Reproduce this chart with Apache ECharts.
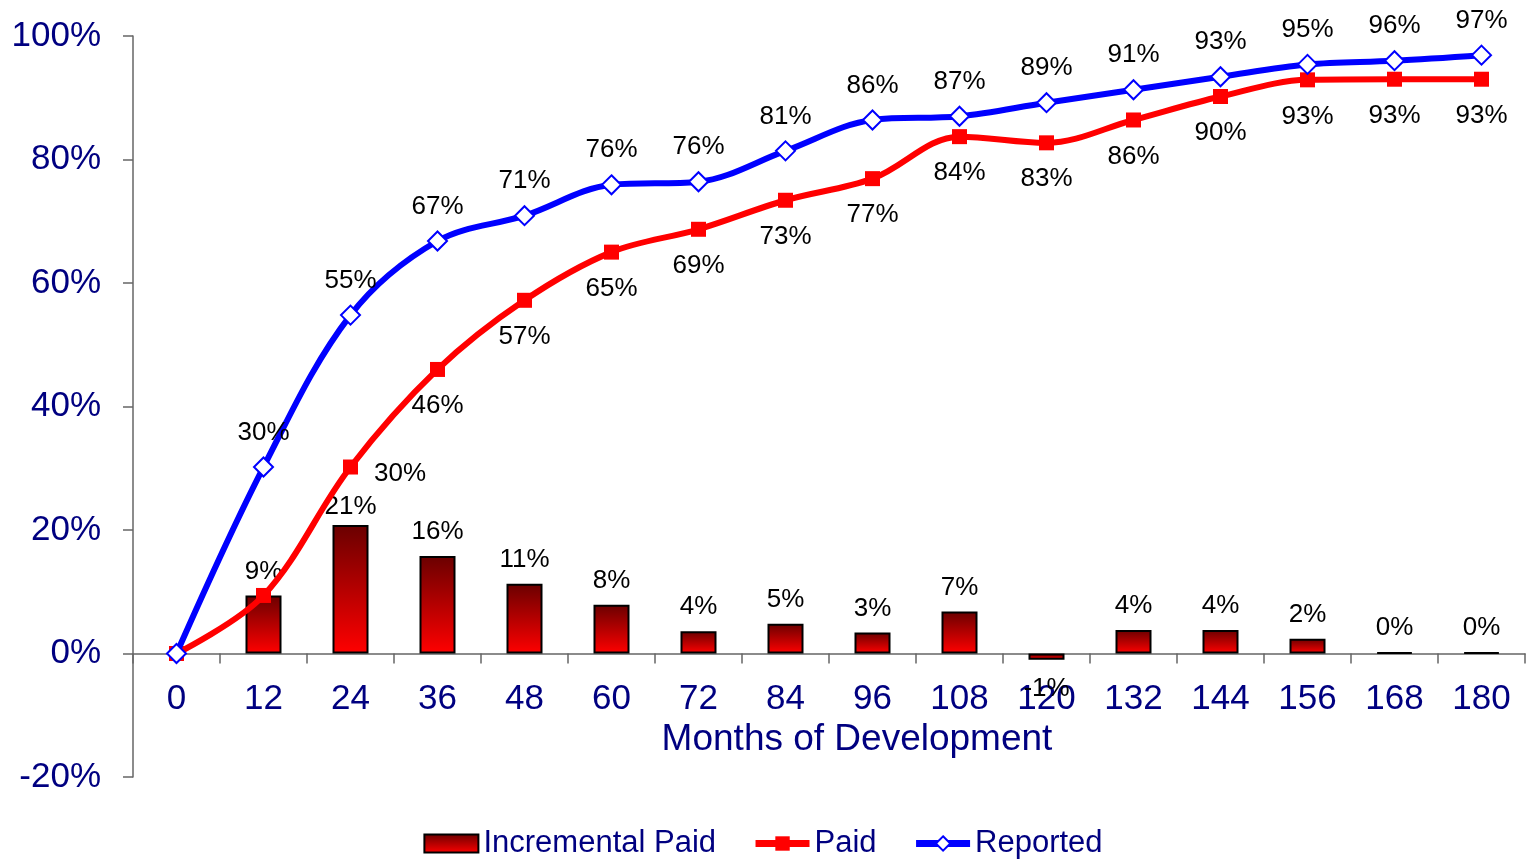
<!DOCTYPE html>
<html>
<head>
<meta charset="utf-8">
<script src="https://cdn.jsdelivr.net/npm/echarts@6/dist/echarts.min.js"></script>
<style>
html,body{margin:0;padding:0;background:#fff;}
#chart{width:1526px;height:860px;}
</style>
</head>
<body>
<div id="chart"></div>
<script>
const months = ['0','12','24','36','48','60','72','84','96','108','120','132','144','156','168','180'];
const incrementalPaid = [null, 9.4, 20.8, 15.8, 11.3, 7.9, 3.6, 4.8, 3.4, 6.8, -1.0, 3.8, 3.8, 2.4, 0.2, 0.2];
const paid = [0, 9.4, 30.2, 46.0, 57.2, 65.0, 68.7, 73.4, 76.9, 83.7, 82.7, 86.4, 90.2, 92.9, 93.0, 93.0];
const reported = [0, 30.2, 54.8, 66.8, 70.9, 75.9, 76.4, 81.4, 86.4, 87.0, 89.2, 91.3, 93.4, 95.4, 96.0, 96.9];
const yTicks = [-20, 0, 20, 40, 60, 80, 100];

const navy = '#000080';
const font = 'Liberation Sans, Arial, sans-serif';
const pct = v => Math.round(v) + '%';

const barData = incrementalPaid.map((v, i) => {
  if (v === null) return {value: null, label: {show: false}};
  const d = {value: v};
  if (v < 0) d.label = {position: 'bottom', distance: 16};
  if (i === 2) d.label = {distance: 5};
  return d;
});
const paidData = paid.map((v, i) => {
  const d = {value: v};
  if (i <= 1) d.label = {show: false};
  if (i === 2) d.label = {position: 'right', distance: 16, offset: [0, 7]};
  return d;
});
const repData = reported.map((v, i) => {
  const d = {value: v};
  if (i === 0) d.label = {show: false};
  return d;
});

const chart = echarts.init(document.getElementById('chart'), null, {renderer: 'canvas'});
const option = {
  animation: false,
  backgroundColor: '#fff',
  textStyle: {fontFamily: font},
  grid: {left: 133, right: 1, top: 36, bottom: 83, containLabel: false, outerBoundsMode: 'none'},
  legend: {
    top: 823,
    left: 'center',
    itemWidth: 54,
    itemHeight: 18,
    itemGap: 36,
    textStyle: {color: navy, fontSize: 31, fontFamily: font},
    data: [
      {name: 'Incremental Paid', icon: 'rect'},
      {name: 'Paid', lineStyle: {width: 7}},
      {name: 'Reported', lineStyle: {width: 7}}
    ]
  },
  xAxis: {
    type: 'category',
    data: months,
    boundaryGap: true,
    offset: 0,
    axisLine: {onZero: false, lineStyle: {color: '#666', width: 1.5}},
    axisTick: {show: true, length: 10, inside: false, lineStyle: {color: '#666', width: 1.5}},
    axisLabel: {color: navy, fontSize: 35, fontFamily: font, margin: 28, interval: 0},
    name: 'Months of Development',
    nameLocation: 'middle',
    nameGap: 64,
    nameTextStyle: {color: navy, fontSize: 37, fontFamily: font, padding: [0, 0, 0, 56]},
    splitLine: {show: false}
  },
  yAxis: {
    type: 'value',
    min: yTicks[0],
    max: yTicks[yTicks.length - 1],
    interval: 20,
    axisLine: {show: true, lineStyle: {color: '#666', width: 1.5}},
    axisTick: {show: true, length: 10, lineStyle: {color: '#666', width: 1.5}},
    axisLabel: {color: navy, fontSize: 35, fontFamily: font, margin: 32, formatter: v => v + '%'},
    splitLine: {show: false}
  },
  series: [
    {
      name: 'Incremental Paid',
      type: 'bar',
      data: barData,
      barWidth: 36,
      z: 2,
      itemStyle: {
        color: new echarts.graphic.LinearGradient(0, 0, 0, 1, [
          {offset: 0, color: '#6a0000'},
          {offset: 1, color: '#ff0000'}
        ]),
        borderColor: '#000',
        borderWidth: 2
      },
      label: {show: true, position: 'top', distance: 11, color: '#000', fontSize: 26, fontFamily: font,
        formatter: p => pct(p.value)}
    },
    {
      name: 'Paid',
      type: 'line',
      data: paidData,
      smooth: 0.35,
      z: 3,
      symbol: 'rect',
      symbolSize: 15,
      showAllSymbol: true,
      lineStyle: {color: '#ff0000', width: 6},
      itemStyle: {color: '#ff0000', borderColor: '#ff0000', borderWidth: 0},
      label: {show: true, position: 'bottom', distance: 16, color: '#000', fontSize: 26, fontFamily: font,
        formatter: p => pct(p.value)}
    },
    {
      name: 'Reported',
      type: 'line',
      data: repData,
      smooth: 0.35,
      z: 4,
      symbol: 'diamond',
      symbolSize: 19,
      showAllSymbol: true,
      lineStyle: {color: '#0000ff', width: 6},
      itemStyle: {color: '#ffffff', borderColor: '#0000ff', borderWidth: 2},
      label: {show: true, position: 'top', distance: 11, color: '#000', fontSize: 26, fontFamily: font,
        formatter: p => pct(p.value)}
    }
  ]
};
chart.setOption(option);
// move the category axis up to the zero line
const yZero = chart.convertToPixel({yAxisIndex: 0}, 0);
const yMin = chart.convertToPixel({yAxisIndex: 0}, yTicks[0]);
chart.setOption({xAxis: {offset: -(yMin - yZero)}});
</script>
</body>
</html>
